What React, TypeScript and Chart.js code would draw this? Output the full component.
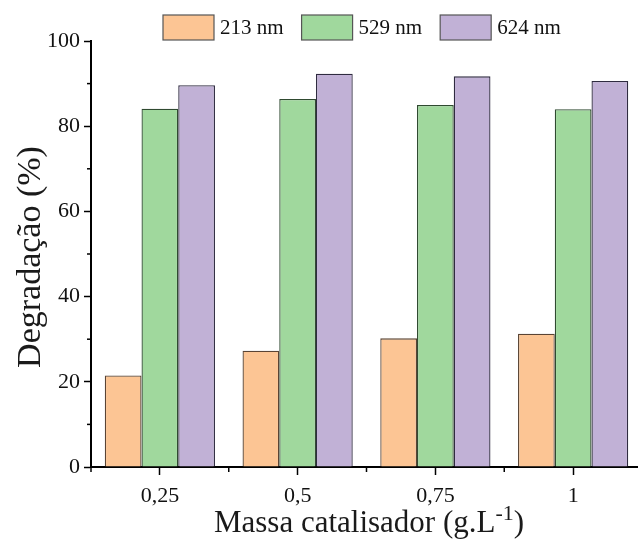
import React, { useEffect, useRef } from "react";
import { Chart, registerables } from "chart.js";

Chart.register(...registerables);

const categories = ["0,25", "0,5", "0,75", "1"];
const seriesLabels = ["213 nm", "529 nm", "624 nm"];
const values213 = [21.5, 27.3, 30.2, 31.3];
const values529 = [84.1, 86.4, 85.0, 84.0];
const values624 = [89.6, 92.3, 91.7, 90.6];
const fillColors = ["#FCC594", "#A0D89D", "#C1B1D6"];
const edgeColors = ["#5a4434", "#2f4a30", "#2f2b40"];
const yTitle = "Degradação (%)";
const xTitleMain = "Massa catalisador (g.L";
const xTitleSup = "-1";
const xTitleEnd = ")";

const FONT = "'Liberation Serif', 'Times New Roman', serif";

const decorPlugin = {
  id: "decor",
  afterDraw(chart: any) {
    const ctx = chart.ctx;
    const xs = chart.scales.x;
    const ys = chart.scales.y;
    const area = chart.chartArea;
    ctx.save();
    ctx.strokeStyle = "#000";
    ctx.lineWidth = 1.5;
    // x minor ticks at category boundaries
    const step = xs.getPixelForValue(1) - xs.getPixelForValue(0);
    for (let i = 0; i <= categories.length; i++) {
      const px = xs.getPixelForValue(0) - step / 2 + i * step;
      ctx.beginPath();
      ctx.moveTo(px, area.bottom);
      ctx.lineTo(px, area.bottom + 5);
      ctx.stroke();
    }
    // y minor ticks
    for (let v = 10; v < 100; v += 20) {
      const py = ys.getPixelForValue(v);
      ctx.beginPath();
      ctx.moveTo(area.left - 4, py);
      ctx.lineTo(area.left, py);
      ctx.stroke();
    }
    // legend
    ctx.font = `21px ${FONT}`;
    ctx.textBaseline = "middle";
    ctx.textAlign = "left";
    let lx = 163;
    const ly = 15;
    chart.data.datasets.forEach((ds: any) => {
      ctx.fillStyle = ds.backgroundColor;
      ctx.fillRect(lx, ly, 51, 25);
      ctx.strokeStyle = "#555";
      ctx.lineWidth = 1.2;
      ctx.strokeRect(lx, ly, 51, 25);
      ctx.fillStyle = "#111";
      ctx.fillText(ds.label, lx + 57, ly + 13);
      lx += 57 + ctx.measureText(ds.label).width + 18;
    });
    // y title
    ctx.font = `34px ${FONT}`;
    ctx.fillStyle = "#1a1a1a";
    ctx.save();
    ctx.translate(31, 257);
    ctx.rotate(-Math.PI / 2);
    ctx.textAlign = "center";
    ctx.textBaseline = "middle";
    ctx.fillText(yTitle, 0, 0);
    ctx.restore();
    // x title with superscript
    const mainFont = `31px ${FONT}`;
    const supFont = `22px ${FONT}`;
    ctx.font = mainFont;
    const w1 = ctx.measureText(xTitleMain).width;
    const w3 = ctx.measureText(xTitleEnd).width;
    ctx.font = supFont;
    const w2 = ctx.measureText(xTitleSup).width;
    const total = w1 + w2 + w3;
    const cx = 369;
    const base = 532;
    let tx = cx - total / 2;
    ctx.textAlign = "left";
    ctx.textBaseline = "alphabetic";
    ctx.font = mainFont;
    ctx.fillText(xTitleMain, tx, base);
    tx += w1;
    ctx.font = supFont;
    ctx.fillText(xTitleSup, tx, base - 12);
    tx += w2;
    ctx.font = mainFont;
    ctx.fillText(xTitleEnd, tx, base);
    ctx.restore();
  },
};

export default function App() {
  const ref = useRef<HTMLCanvasElement>(null);
  useEffect(() => {
    const canvas = ref.current;
    if (!canvas) return;
    const series = [values213, values529, values624];
    const chart = new Chart(canvas, {
      type: "bar",
      data: {
        labels: categories,
        datasets: series.map((vals, i) => ({
          label: seriesLabels[i],
          data: vals,
          backgroundColor: fillColors[i],
          borderColor: edgeColors[i],
          borderWidth: 1.3,
          categoryPercentage: 0.8,
          barPercentage: 1,
        })),
      },
      options: {
        responsive: false,
        devicePixelRatio: 1,
        animation: false,
        layout: { padding: { top: 41, left: 0, right: 0, bottom: 0 } },
        plugins: { legend: { display: false }, tooltip: { enabled: false } },
        scales: {
          x: {
            type: "category",
            offset: true,
            grid: {
              offset: false,
              drawOnChartArea: false,
              drawTicks: true,
              tickLength: 8,
              tickWidth: 1.5,
              tickColor: "#000",
            },
            border: { display: true, color: "#000", width: 2 },
            ticks: {
              color: "#111",
              font: { family: FONT, size: 22 },
              padding: 8,
              maxRotation: 0,
            },
            afterFit(scale: any) {
              scale.height = 72;
            },
          },
          y: {
            min: 0,
            max: 100,
            grid: {
              drawOnChartArea: false,
              drawTicks: true,
              tickLength: 7,
              tickWidth: 1.5,
              tickColor: (c: any) => (c.tick && c.tick.value % 20 === 0 ? "#000" : "rgba(0,0,0,0)"),
            },
            border: { display: true, color: "#000", width: 2 },
            ticks: {
              stepSize: 10,
              color: "#111",
              font: { family: FONT, size: 22 },
              padding: 4,
              callback: (v: any) => (Number(v) % 20 === 0 ? String(v) : ""),
            },
            afterFit(scale: any) {
              scale.width = 91;
            },
          },
        },
      },
      plugins: [decorPlugin],
    });
    return () => chart.destroy();
  }, []);
  return (
    <div
      style={{
        position: "absolute",
        left: 0,
        top: 0,
        width: 638,
        height: 539,
        overflow: "hidden",
        background: "#fff",
      }}
    >
      <canvas ref={ref} width={642} height={539} style={{ display: "block", width: 642, height: 539 }} />
    </div>
  );
}
